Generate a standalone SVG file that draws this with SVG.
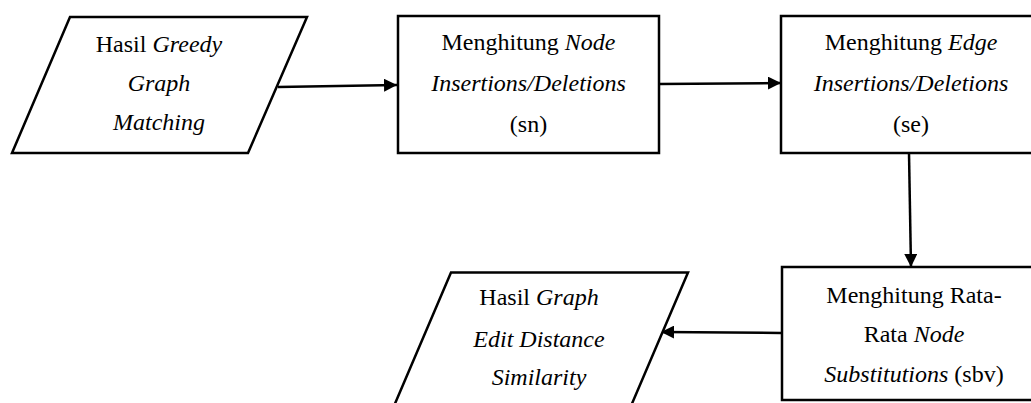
<svg xmlns="http://www.w3.org/2000/svg" width="1031" height="403" viewBox="0 0 1031 403">
  <style>
    .shape { fill: #ffffff; stroke: #000000; stroke-width: 2.5; stroke-linejoin: miter; }
    .edge { fill: none; stroke: #000000; stroke-width: 2.5; }
    text { font-family: "Liberation Serif", "Times New Roman", serif; font-size: 24px; fill: #000000; text-anchor: middle; }
    .it { font-style: italic; }
  </style>
  <defs>
    <marker id="arrow" viewBox="0 0 13 13" refX="13" refY="6.5" markerWidth="13" markerHeight="13" markerUnits="userSpaceOnUse" orient="auto">
      <path d="M0,0 L13,6.5 L0,13 Z" fill="#000000"/>
    </marker>
  </defs>
  <rect width="1031" height="403" fill="#ffffff"/>

  <!-- connectors -->
  <g id="connectors">
    <line class="edge" x1="278" y1="87" x2="397" y2="85" marker-end="url(#arrow)"/>
    <line class="edge" x1="659" y1="84" x2="781" y2="83" marker-end="url(#arrow)"/>
    <line class="edge" x1="909" y1="153" x2="911" y2="267" marker-end="url(#arrow)"/>
    <line class="edge" x1="781" y1="333" x2="661" y2="332" marker-end="url(#arrow)"/>
  </g>

  <!-- input: greedy matching result -->
  <g id="input-greedy">
    <polygon class="shape" points="70,17 307,17 248,153 12,153"/>
    <text x="159" y="52">Hasil <tspan class="it">Greedy</tspan></text>
    <text x="159" y="91" class="it">Graph</text>
    <text x="159" y="130" class="it">Matching</text>
  </g>

  <!-- node insertions/deletions -->
  <g id="node-sn">
    <rect class="shape" x="398" y="16" width="261" height="137"/>
    <text x="528.5" y="50">Menghitung <tspan class="it">Node</tspan></text>
    <text x="528.5" y="91" class="it">Insertions/Deletions</text>
    <text x="528.5" y="132">(sn)</text>
  </g>

  <!-- edge insertions/deletions -->
  <g id="node-se">
    <rect class="shape" x="781" y="16" width="262" height="137"/>
    <text x="911" y="50">Menghitung <tspan class="it">Edge</tspan></text>
    <text x="911" y="91" class="it">Insertions/Deletions</text>
    <text x="911" y="132">(se)</text>
  </g>

  <!-- average node substitutions -->
  <g id="node-sbv">
    <rect class="shape" x="782" y="267" width="262" height="133"/>
    <text x="914" y="303">Menghitung Rata-</text>
    <text x="914" y="342">Rata <tspan class="it">Node</tspan></text>
    <text x="914" y="382"><tspan class="it">Substitutions</tspan> (sbv)</text>
  </g>

  <!-- output: graph edit distance similarity -->
  <g id="output-ged">
    <polygon class="shape" points="451,272.5 688,272.5 625,420 388,420"/>
    <text x="539" y="305">Hasil <tspan class="it">Graph</tspan></text>
    <text x="539" y="347" class="it">Edit Distance</text>
    <text x="539" y="385" class="it">Similarity</text>
  </g>
</svg>
